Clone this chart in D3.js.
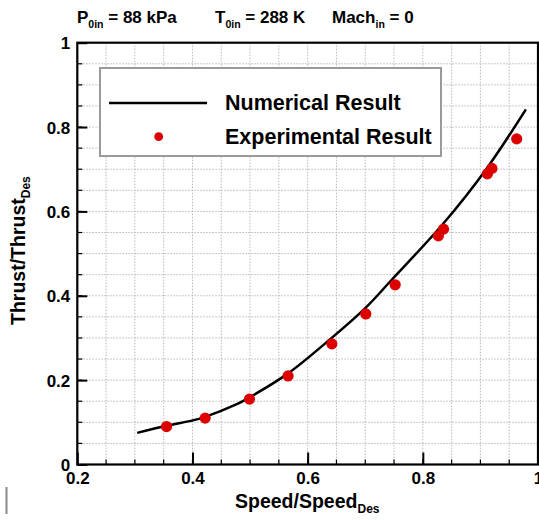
<!DOCTYPE html>
<html><head><meta charset="utf-8">
<script src="https://cdn.jsdelivr.net/npm/d3@7"></script>
<style>
html,body{margin:0;padding:0;background:#fff;}
svg{display:block;font-family:"Liberation Sans",Arial,sans-serif;font-weight:bold;}
</style></head>
<body><svg id="chart" width="539" height="520"></svg>
<script>
// Numerical result curve
const numSpeed  = [0.304,0.355,0.399,0.422,0.477,0.499,0.566,0.639,0.701,0.746,0.836,0.911,0.979];
const numThrust = [0.075,0.092,0.104,0.113,0.143,0.159,0.216,0.297,0.372,0.438,0.572,0.702,0.842];
// Experimental result points
const expSpeed  = [0.355,0.422,0.499,0.566,0.642,0.701,0.752,0.827,0.836,0.912,0.920,0.963];
const expThrust = [0.090,0.110,0.155,0.210,0.286,0.357,0.426,0.542,0.558,0.689,0.702,0.772];
const xTicks = [0.2,0.4,0.6,0.8,1.0];
const yTicks = [0,0.2,0.4,0.6,0.8,1.0];
const xTickLabels = ["0.2","0.4","0.6","0.8","1"];
const yTickLabels = ["0","0.2","0.4","0.6","0.8","1"];
const seriesNames = ["Numerical Result","Experimental Result"];

const svg = d3.select("#chart");
const L=77.3, R=538, T=42.7, B=464.5;
const x = d3.scaleLinear().domain([0.2,1.0]).range([L,R]);
const y = d3.scaleLinear().domain([0,1]).range([B,T]);

// grid
const minor = d3.range(0,21).map(i=>i*0.05);
const gx = minor.filter(v=>v>0.2+1e-9 && v<1-1e-9);
const gy = minor.filter(v=>v>1e-9 && v<1-1e-9);
const grid = svg.append("g").attr("stroke","#b8b8b8").attr("stroke-width",1).attr("stroke-dasharray","1.5,1.5");
grid.selectAll("line.v").data(gx).join("line").attr("class","v")
  .attr("x1",d=>x(d)).attr("x2",d=>x(d)).attr("y1",T).attr("y2",B);
grid.selectAll("line.h").data(gy).join("line").attr("class","h")
  .attr("y1",d=>y(d)).attr("y2",d=>y(d)).attr("x1",L).attr("x2",R);

// axes via d3 axis (inner ticks)
const xAxis = d3.axisBottom(x).tickValues(xTicks).tickSize(-12).tickFormat((d,i)=>xTickLabels[i]);
const yAxis = d3.axisLeft(y).tickValues(yTicks).tickSize(-10).tickFormat((d,i)=>yTickLabels[i]);
const gxA = svg.append("g").attr("transform",`translate(0,${B})`).call(xAxis);
const gyA = svg.append("g").attr("transform",`translate(${L},0)`).call(yAxis);
[gxA,gyA].forEach(g=>{g.select(".domain").remove();
  g.selectAll(".tick line").attr("stroke","#000").attr("stroke-width",2);
  g.selectAll("text").attr("font-family","Liberation Sans, Arial, sans-serif").attr("font-weight","bold").attr("font-size",17).attr("fill","#000");});
gxA.selectAll("text").attr("dy",null).attr("y",19.5);
gyA.selectAll("text").attr("x",-7).attr("dy","0.35em");
// minor ticks
const mt = svg.append("g").attr("stroke","#000").attr("stroke-width",1.2);
mt.selectAll("line.mx").data(gx).join("line").attr("class","mx")
  .attr("x1",d=>x(d)).attr("x2",d=>x(d)).attr("y1",B).attr("y2",B-5);
mt.selectAll("line.my").data(gy).join("line").attr("class","my")
  .attr("y1",d=>y(d)).attr("y2",d=>y(d)).attr("x1",L).attr("x2",L+5);

// frame
svg.append("rect").attr("x",L).attr("y",T).attr("width",R-L).attr("height",B-T)
  .attr("fill","none").attr("stroke","#000").attr("stroke-width",2.2);

// legend
svg.append("rect").attr("x",100).attr("y",68).attr("width",341).attr("height",88)
  .attr("fill","#fff").attr("stroke","#9a9a9a").attr("stroke-width",2);
svg.append("line").attr("x1",109).attr("x2",207).attr("y1",103).attr("y2",103)
  .attr("stroke","#000").attr("stroke-width",2.5);
svg.append("circle").attr("cx",158.7).attr("cy",136.7).attr("r",4.4).attr("fill","#dd0000");
svg.append("text").attr("x",225).attr("y",110).attr("font-size",21.5).text(seriesNames[0]);
svg.append("text").attr("x",225).attr("y",143.5).attr("font-size",21.5).text(seriesNames[1]);

// curve
const line = d3.line().x(d=>x(d[0])).y(d=>y(d[1])).curve(d3.curveCatmullRom.alpha(0.5));
svg.append("path").datum(numSpeed.map((s,i)=>[s,numThrust[i]]))
  .attr("d",line).attr("fill","none").attr("stroke","#000").attr("stroke-width",2.5);
// points
svg.append("g").selectAll("circle").data(expSpeed.map((s,i)=>[s,expThrust[i]])).join("circle")
  .attr("cx",d=>x(d[0])).attr("cy",d=>y(d[1])).attr("r",5.6).attr("fill","#dd0000");

// title
function addSub(x0, main, sub, rest){
  const tx = svg.append("text").attr("x",x0).attr("y",23).attr("font-size",17);
  tx.append("tspan").text(main);
  tx.append("tspan").attr("font-size",10.5).attr("dy",5).text(sub);
  tx.append("tspan").attr("dy",-5).text(rest);
}
addSub(77,"P","0in"," = 88 kPa");
addSub(215,"T","0in"," = 288 K");
addSub(332,"Mach","in"," = 0");

// axis labels
const xl = svg.append("text").attr("x",235).attr("y",508).attr("font-size",19.5);
xl.append("tspan").text("Speed/Speed");
xl.append("tspan").attr("font-size",12).attr("dy",5).text("Des");
const yl = svg.append("text").attr("transform","translate(25,325) rotate(-90)").attr("font-size",19.5);
yl.append("tspan").text("Thrust/Thrust");
yl.append("tspan").attr("font-size",12).attr("dy",5).text("Des");

// small cursor mark
svg.append("line").attr("x1",6.5).attr("x2",6.5).attr("y1",487).attr("y2",514)
  .attr("stroke","#8a8a8a").attr("stroke-width",2);
</script></body></html>
